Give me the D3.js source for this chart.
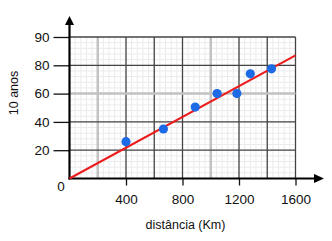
<!DOCTYPE html>
<html>
<head>
<meta charset="utf-8">
<script src="https://cdn.jsdelivr.net/npm/d3@7"></script>
<style>
  body { margin: 0; background: #fff; }
  text { font-family: "Liberation Sans", Arial, sans-serif; fill: #111; }
</style>
</head>
<body>
<svg width="332" height="241"></svg>
<script>
// data
var distancia = [400, 665, 890, 1045, 1185, 1280, 1430];
var anos = [26, 35, 50.5, 60, 60, 74, 77.5];
var fitLine = [[0, 0], [1600, 87]];
var xTicks = [400, 800, 1200, 1600];
var yTicks = [20, 40, 60, 80, 100];
var yTickLabels = ["20", "40", "60", "80", "90"];
var xLightLines = [200, 1000];   // thicker pale major lines
var yLightLines = [60];

var svg = d3.select("svg");

var x = d3.scaleLinear().domain([0, 1600]).range([69.5, 295.5]);
var y = d3.scaleLinear().domain([0, 100]).range([178.5, 37]);

var grid = svg.append("g").attr("id", "grid");

// minor grid
grid.selectAll(".mx").data(d3.range(40, 1600, 40)).enter().append("line")
    .attr("x1", d => x(d)).attr("x2", d => x(d))
    .attr("y1", y(0)).attr("y2", y(100))
    .attr("stroke", "#ebebeb").attr("stroke-width", 1);
grid.selectAll(".my").data(d3.range(4, 100, 4)).enter().append("line")
    .attr("y1", d => y(d)).attr("y2", d => y(d))
    .attr("x1", x(0)).attr("x2", x(1600))
    .attr("stroke", "#ebebeb").attr("stroke-width", 1);

// major grid
var xMajor = d3.range(200, 1601, 200);
grid.selectAll(".Mx").data(xMajor).enter().append("line")
    .attr("x1", d => x(d)).attr("x2", d => x(d))
    .attr("y1", y(0)).attr("y2", y(100))
    .attr("stroke", d => xLightLines.indexOf(d) >= 0 ? "#c2c2c2" : "#444")
    .attr("stroke-width", d => xLightLines.indexOf(d) >= 0 ? 2.5 : 1.3);
grid.selectAll(".My").data(d3.range(20, 101, 20)).enter().append("line")
    .attr("y1", d => y(d)).attr("y2", d => y(d))
    .attr("x1", x(0)).attr("x2", x(1600))
    .attr("stroke", d => yLightLines.indexOf(d) >= 0 ? "#c2c2c2" : "#444")
    .attr("stroke-width", d => yLightLines.indexOf(d) >= 0 ? 2.5 : 1.3);

// axes
var xAxis = d3.axisBottom(x).tickValues(xTicks).tickSize(7).tickPadding(9)
    .tickFormat(d3.format("d"));
var gx = svg.append("g").attr("transform", "translate(0," + y(0) + ")").call(xAxis);
gx.select(".domain").remove();
gx.selectAll("line").attr("stroke", "#111").attr("stroke-width", 1.3);
gx.selectAll("text").style("font-size", "13.5px").style("font-family", "Liberation Sans, Arial, sans-serif").attr("fill", "#111");

var yAxis = d3.axisLeft(y).tickValues(yTicks).tickSize(16).tickPadding(4)
    .tickFormat((d, i) => yTickLabels[i]);
var gy = svg.append("g").attr("transform", "translate(" + x(0) + ",0)").call(yAxis);
gy.select(".domain").remove();
gy.selectAll("line").attr("stroke", "#111").attr("stroke-width", 1.3);
gy.selectAll("text").style("font-size", "13.5px").style("font-family", "Liberation Sans, Arial, sans-serif").attr("fill", "#111");

// axis lines with arrows
svg.append("line")
    .attr("x1", x(0)).attr("x2", x(0)).attr("y1", y(0) + 1).attr("y2", 24)
    .attr("stroke", "#000").attr("stroke-width", 2.2);
svg.append("path")
    .attr("d", "M" + x(0) + ",16 L" + (x(0) - 4.5) + ",25 L" + (x(0) + 4.5) + ",25 Z")
    .attr("fill", "#000");
svg.append("line")
    .attr("x1", x(0) - 1).attr("x2", 315).attr("y1", y(0)).attr("y2", y(0))
    .attr("stroke", "#000").attr("stroke-width", 2.2);
svg.append("path")
    .attr("d", "M324," + y(0) + " L314," + (y(0) - 4.5) + " L314," + (y(0) + 4.5) + " Z")
    .attr("fill", "#000");

svg.append("text").attr("x", 61).attr("y", 191).attr("text-anchor", "middle")
    .style("font-size", "13.5px").text("0");

// fit line
svg.append("path")
    .datum(fitLine)
    .attr("d", d3.line().x(d => x(d[0])).y(d => y(d[1])))
    .attr("stroke", "#ec1c1c").attr("stroke-width", 2).attr("fill", "none");

// points
svg.selectAll(".pt").data(distancia).enter().append("circle")
    .attr("cx", d => x(d)).attr("cy", (d, i) => y(anos[i]))
    .attr("r", 4.6).attr("fill", "#1d6ae6");

// axis titles
svg.append("text").attr("x", 185.5).attr("y", 229).attr("text-anchor", "middle")
    .style("font-size", "12.5px").text("distância (Km)");
svg.append("text")
    .attr("transform", "translate(18,93) rotate(-90)")
    .attr("text-anchor", "middle")
    .style("font-size", "12.5px").text("10 anos");
</script>
</body>
</html>
